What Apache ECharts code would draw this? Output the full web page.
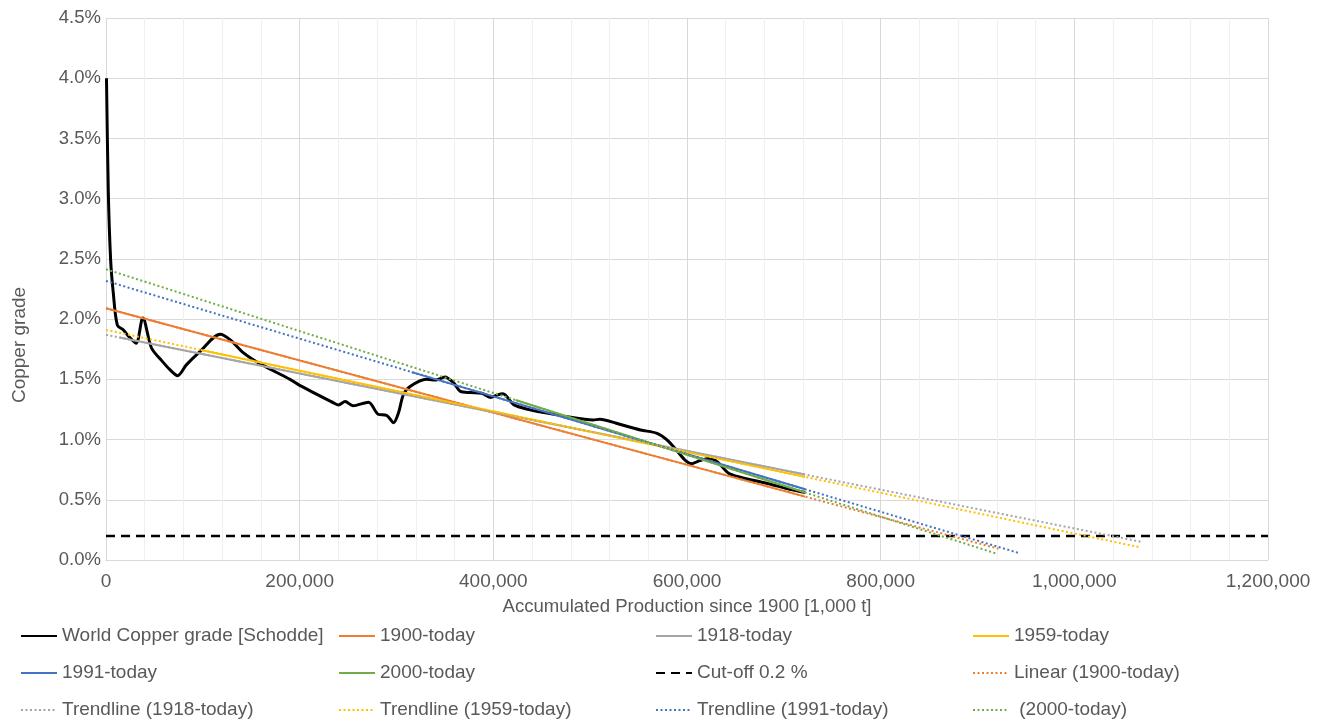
<!DOCTYPE html>
<html>
<head>
    <meta charset="utf-8">
    <title>World copper grade</title>
    <script src="https://cdn.jsdelivr.net/npm/echarts/dist/echarts.min.js"></script>
    <style>
        html, body { margin: 0; padding: 0; background: #fff; }
    </style>
</head>
<body>
    <div id="main" style="width: 1322px;height:722px;"></div>

    <script type="text/javascript">
        // x: accumulated production since 1900 [1,000 t], y: copper grade [%]
        var gradeSchodde = [
            [500, 4.00], [2400, 3.05], [4800, 2.49], [7500, 2.22], [11700, 1.95],
            [18000, 1.91], [23000, 1.86], [31000, 1.80], [38000, 2.01], [47000, 1.76],
            [57000, 1.66], [66000, 1.58], [74000, 1.53], [83000, 1.62], [97000, 1.73],
            [118000, 1.875], [128000, 1.83], [142000, 1.72], [159000, 1.63], [190000, 1.50],
            [200000, 1.45], [235000, 1.305], [240000, 1.287], [247000, 1.315], [255000, 1.28],
            [271000, 1.31], [281000, 1.21], [290000, 1.20], [297000, 1.14], [302000, 1.22],
            [307000, 1.37], [314000, 1.44], [331000, 1.50], [341000, 1.495], [350000, 1.52],
            [359000, 1.47], [366000, 1.40], [376000, 1.39], [388000, 1.385], [397000, 1.35],
            [404000, 1.37], [410000, 1.38], [421000, 1.29], [438000, 1.246], [448000, 1.23],
            [476000, 1.19], [503000, 1.163], [510000, 1.168], [527000, 1.135], [552000, 1.08],
            [569000, 1.052], [579000, 1.00], [589000, 0.914], [598000, 0.83], [605000, 0.80],
            [613000, 0.825], [624000, 0.845], [632000, 0.81], [643000, 0.72], [655000, 0.687],
            [682000, 0.637], [706000, 0.587], [722000, 0.56]
        ];

        // fitted segments (solid)
        var fit1900 = [[0, 2.09], [722000, 0.526]];
        var fit1918 = [[14000, 1.848], [722000, 0.71]];
        var fit1959 = [[98000, 1.744], [722000, 0.69]];
        var fit1991 = [[315700, 1.56], [722000, 0.587]];
        var fit2000 = [[423000, 1.328], [722000, 0.56]];

        // trendlines with forecast (dotted)
        var trend1900 = [[0, 2.09], [921500, 0.094]];
        var trend1918 = [[0, 1.87], [1069700, 0.15]];
        var trend1959 = [[0, 1.91], [1068000, 0.105]];
        var trend1991 = [[0, 2.317], [944000, 0.055]];
        var trend2000 = [[0, 2.414], [919600, 0.053]];

        var cutOff = [[0, 0.2], [1200000, 0.2]];

        var xTicks = [0, 1200000, 200000];
        var yTicks = [0, 4.5, 0.5];

        var FONT = '"Liberation Sans", Arial, sans-serif';
        var GREY_TEXT = '#595959';
        var dots = [2, 2.5];

        var myChart = echarts.init(document.getElementById('main'));

        function solid(name, data, color, width) {
            return {
                name: name, type: 'line', data: data, symbol: 'none',
                lineStyle: { color: color, width: width || 2 },
                itemStyle: { color: color }
            };
        }
        function dotted(name, data, color) {
            return {
                name: name, type: 'line', data: data, symbol: 'none',
                lineStyle: { color: color, width: 2, type: dots },
                itemStyle: { color: color }
            };
        }

        var legendBase = {
            orient: 'vertical',
            top: 626,
            height: 96,
            padding: 0,
            itemWidth: 36,
            itemHeight: 14,
            itemGap: 17,
            itemStyle: { opacity: 0 },
            textStyle: { fontFamily: FONT, fontSize: 19, color: GREY_TEXT, lineHeight: 20 }
        };

        var option = {
            animation: false,
            grid: { left: 106, right: 54, top: 18, bottom: 162 },
            xAxis: {
                type: 'value',
                min: xTicks[0], max: xTicks[1], interval: xTicks[2],
                name: 'Accumulated Production since 1900 [1,000 t]',
                nameLocation: 'middle',
                nameGap: 37,
                nameTextStyle: { fontFamily: FONT, fontSize: 18.6, color: GREY_TEXT },
                axisLine: { show: true, lineStyle: { color: '#d9d9d9', width: 1 } },
                axisTick: { show: false },
                minorTick: { show: false, splitNumber: 5 },
                minorSplitLine: { show: true, lineStyle: { color: '#f0f0f0', width: 1 } },
                splitLine: { show: true, lineStyle: { color: '#d9d9d9', width: 1 } },
                axisLabel: {
                    margin: 12,
                    fontFamily: FONT, fontSize: 19, color: GREY_TEXT,
                    formatter: function (v) { return v.toLocaleString('en-US'); }
                }
            },
            yAxis: {
                type: 'value',
                min: yTicks[0], max: yTicks[1], interval: yTicks[2],
                axisLine: { show: false },
                axisTick: { show: false },
                splitLine: { show: true, lineStyle: { color: '#d9d9d9', width: 1 } },
                axisLabel: {
                    margin: 5,
                    fontFamily: FONT, fontSize: 18.5, color: GREY_TEXT,
                    formatter: function (v) { return v.toFixed(1) + '%'; }
                }
            },
            graphic: [{
                type: 'text',
                x: 20, y: 345,
                rotation: Math.PI / 2,
                style: {
                    text: 'Copper grade',
                    font: '19px ' + FONT,
                    fill: GREY_TEXT,
                    align: 'center',
                    verticalAlign: 'middle'
                }
            }],
            legend: [
                Object.assign({ left: 20, data: ['World Copper grade [Schodde]', '1991-today', 'Trendline (1918-today)'] }, legendBase),
                Object.assign({ left: 338, data: ['1900-today', '2000-today', 'Trendline (1959-today)'] }, legendBase),
                Object.assign({ left: 655, data: ['1918-today', 'Cut-off 0.2 %', 'Trendline (1991-today)'] }, legendBase),
                Object.assign({ left: 972, data: ['1959-today', 'Linear (1900-today)', ' (2000-today)'] }, legendBase)
            ],
            series: [
                {
                    name: 'World Copper grade [Schodde]', type: 'line', data: gradeSchodde,
                    symbol: 'none', smooth: 0.3,
                    lineStyle: { color: '#000000', width: 3 },
                    itemStyle: { color: '#000000' }
                },
                solid('1900-today', fit1900, '#ED7D31'),
                solid('1918-today', fit1918, '#A5A5A5'),
                solid('1959-today', fit1959, '#FFC000'),
                solid('1991-today', fit1991, '#4472C4'),
                solid('2000-today', fit2000, '#70AD47'),
                {
                    name: 'Cut-off 0.2 %', type: 'line', data: cutOff, symbol: 'none',
                    lineStyle: { color: '#000000', width: 2.5, type: [9, 6] },
                    itemStyle: { color: '#000000' }
                },
                dotted('Linear (1900-today)', trend1900, '#ED7D31'),
                dotted('Trendline (1918-today)', trend1918, '#A5A5A5'),
                dotted('Trendline (1959-today)', trend1959, '#FFC000'),
                dotted('Trendline (1991-today)', trend1991, '#4472C4'),
                dotted(' (2000-today)', trend2000, '#70AD47')
            ]
        };

        myChart.setOption(option);
    </script>
</body>
</html>
